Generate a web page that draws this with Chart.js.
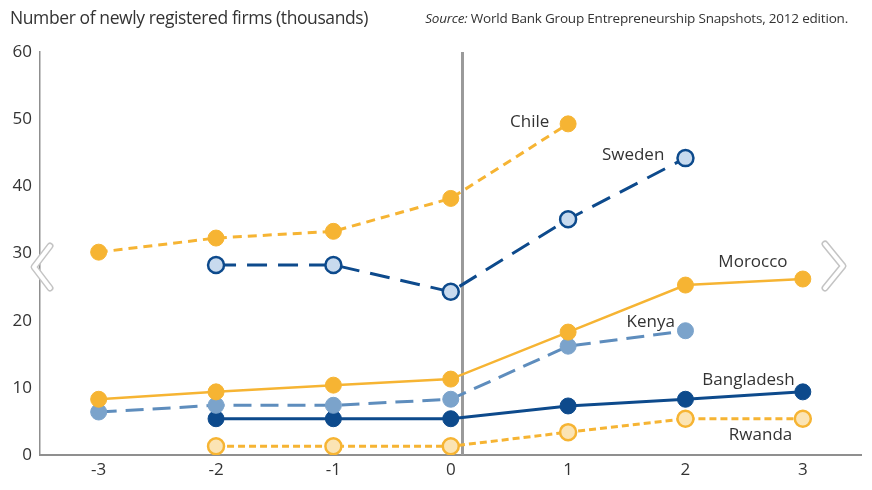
<!DOCTYPE html>
<html>
<head>
<meta charset="utf-8">
<script src="https://cdn.jsdelivr.net/npm/chart.js@4.4.1/dist/chart.umd.min.js"></script>
<style>
  body { margin: 0; background: #fff; }
  #wrap { position: relative; width: 872px; height: 490px; }
  #title { position: absolute; left: 10px; top: 5px; font: 17.5px "Open Sans", sans-serif; color: #333; letter-spacing: -0.4px; }
  #source { position: absolute; right: 24px; top: 9px; font: 13.5px "Open Sans", sans-serif; color: #333; letter-spacing: -0.2px; }
</style>
</head>
<body>
<div id="wrap">
  <canvas id="wykres" width="872" height="490"></canvas>
  <div id="title">Number of newly registered firms (thousands)</div>
  <div id="source"><i>Source:</i> World Bank Group Entrepreneurship Snapshots, 2012 edition.</div>
</div>
<script>
// lata wzgledem reformy
const lata = [-3, -2, -1, 0, 1, 2, 3];
const yTicks = [0, 10, 20, 30, 40, 50, 60];

const chile      = [30.2, 32.3, 33.3, 38.2, 49.3, null, null];
const sweden     = [null, 28.3, 28.3, 24.3, 35.1, 44.2, null];
const morocco    = [8.3, 9.4, 10.4, 11.3, 18.3, 25.3, 26.2];
const kenya      = [6.4, 7.4, 7.4, 8.3, 16.2, 18.5, null];
const bangladesh = [null, 5.4, 5.4, 5.4, 7.3, 8.3, 9.4];
const rwanda     = [null, 1.3, 1.3, 1.3, 3.4, 5.4, 5.4];

const orange = '#F6B433';
const darkBlue = '#0D4A8C';
const steel = '#7BA3CB';

function punkty(arr) {
    return lata.map((x, i) => ({ x: x, y: arr[i] })).filter(p => p.y !== null);
}

// podpisy serii (wspolrzedne danych, wyrownane do prawej)
const podpisy = [
    { text: 'Chile', x: 0.84, y: 49.6 },
    { text: 'Sweden', x: 1.82, y: 44.6 },
    { text: 'Morocco', x: 2.87, y: 28.7 },
    { text: 'Kenya', x: 1.91, y: 19.8 },
    { text: 'Bangladesh', x: 2.93, y: 11.2 },
    { text: 'Rwanda', x: 2.91, y: 3.0 }
];

const extras = {
    id: 'extras',
    beforeDatasetsDraw(c) {
        const { ctx, scales } = c;
        const x0 = scales.x.getPixelForValue(0.1);
        ctx.save();
        ctx.strokeStyle = '#9a9a9a';
        ctx.lineWidth = 3;
        ctx.beginPath();
        ctx.moveTo(x0, scales.y.getPixelForValue(60));
        ctx.lineTo(x0, scales.y.getPixelForValue(0));
        ctx.stroke();
        ctx.restore();
    },
    afterDatasetsDraw(c) {
        const { ctx, scales } = c;
        ctx.save();
        ctx.font = '17px "Open Sans", sans-serif';
        ctx.fillStyle = '#333';
        ctx.textAlign = 'right';
        ctx.textBaseline = 'middle';
        podpisy.forEach(p => {
            ctx.fillText(p.text, scales.x.getPixelForValue(p.x), scales.y.getPixelForValue(p.y));
        });
        // strzalki karuzeli
        function chevron(pts) {
            ctx.lineCap = 'round';
            ctx.lineJoin = 'round';
            ctx.beginPath();
            ctx.moveTo(pts[0][0], pts[0][1]);
            ctx.lineTo(pts[1][0], pts[1][1]);
            ctx.lineTo(pts[2][0], pts[2][1]);
            ctx.strokeStyle = '#c4c4c4';
            ctx.lineWidth = 7;
            ctx.stroke();
            ctx.strokeStyle = '#fff';
            ctx.lineWidth = 4;
            ctx.stroke();
        }
        chevron([[50, 246], [34, 267], [50, 288]]);
        chevron([[825, 244], [843, 266], [825, 288]]);
        ctx.restore();
    }
};

const ctx = document.getElementById('wykres').getContext('2d');
new Chart(ctx, {
    type: 'line',
    data: {
        datasets: [
            { label: 'Chile', data: punkty(chile), borderColor: orange, backgroundColor: orange,
              borderWidth: 3, borderDash: [9, 6], pointRadius: 8, pointBorderWidth: 1, pointBorderColor: orange },
            { label: 'Sweden', data: punkty(sweden), borderColor: darkBlue, backgroundColor: '#C8DAEE',
              borderWidth: 3, borderDash: [20, 11], pointRadius: 8, pointBorderWidth: 2.5, pointBorderColor: darkBlue },
            { label: 'Morocco', data: punkty(morocco), borderColor: orange, backgroundColor: orange,
              borderWidth: 2.5, pointRadius: 8, pointBorderWidth: 1, pointBorderColor: orange },
            { label: 'Kenya', data: punkty(kenya), borderColor: '#5E8DBD', backgroundColor: steel,
              borderWidth: 3, borderDash: [18, 9], pointRadius: 8, pointBorderWidth: 1, pointBorderColor: steel },
            { label: 'Bangladesh', data: punkty(bangladesh), borderColor: darkBlue, backgroundColor: darkBlue,
              borderWidth: 3, pointRadius: 8, pointBorderWidth: 1, pointBorderColor: darkBlue },
            { label: 'Rwanda', data: punkty(rwanda), borderColor: orange, backgroundColor: '#FBE4B4',
              borderWidth: 3, borderDash: [7, 4], pointRadius: 8, pointBorderWidth: 2.5, pointBorderColor: orange }
        ]
    },
    options: {
        responsive: false,
        animation: false,
        layout: { padding: { left: 0, top: 52, right: 9, bottom: 0 } },
        plugins: { legend: { display: false }, tooltip: { enabled: false } },
        scales: {
            x: {
                type: 'linear', min: -3.5, max: 3.5,
                afterBuildTicks: a => { a.ticks = lata.map(v => ({ value: v })); },
                afterFit: a => { a.height = 35; },
                grid: { display: false, drawTicks: false },
                border: { color: '#8f8f8f', width: 2 },
                ticks: { color: '#333', font: { size: 17, family: 'Open Sans' }, padding: 5 }
            },
            y: {
                min: 0, max: 60,
                afterBuildTicks: a => { a.ticks = yTicks.map(v => ({ value: v })); },
                afterFit: a => { a.width = 40; },
                grid: { display: false, drawTicks: false },
                border: { color: '#8f8f8f', width: 1.5 },
                ticks: { color: '#333', font: { size: 17, family: 'Open Sans' }, padding: 8 }
            }
        }
    },
    plugins: [extras]
});
</script>
</body>
</html>
